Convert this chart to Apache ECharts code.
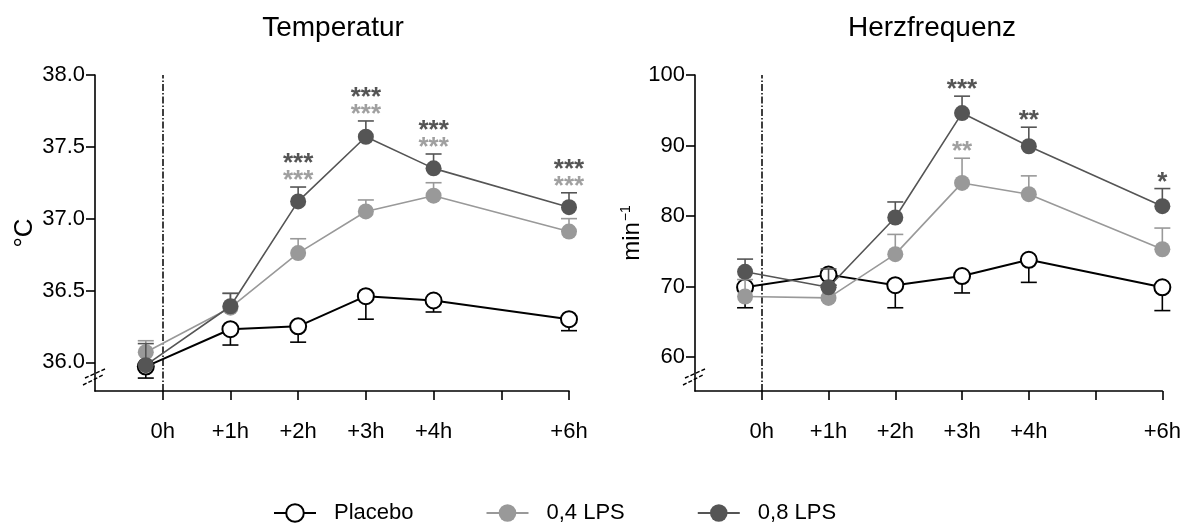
<!DOCTYPE html>
<html>
<head>
<meta charset="utf-8">
<script src="https://cdn.jsdelivr.net/npm/echarts@6/dist/echarts.min.js"></script>
<style>
html, body { margin: 0; padding: 0; background: #fff; }
#main { width: 1184px; height: 529px; }
</style>
</head>
<body>
<div id="main"></div>
<script>
// Zeitpunkte (h), Baseline kurz vor 0h
var hours = [-0.25, 1, 2, 3, 4, 6];
var tickHours = [0, 1, 2, 3, 4, 5, 6];
var labelHours = [0, 1, 2, 3, 4, 6];
var groupNames = ['Placebo', '0,4 LPS', '0,8 LPS'];

// Temperatur (°C), Mittelwert + SEM
var tempPlacebo    = [35.97, 36.23, 36.25, 36.46, 36.43, 36.30];
var tempPlaceboSem = [0.08, 0.11, 0.11, 0.16, 0.08, 0.08];
var tempLps04      = [36.07, 36.38, 36.76, 37.05, 37.16, 36.91];
var tempLps04Sem   = [0.08, 0.10, 0.10, 0.08, 0.09, 0.09];
var tempLps08      = [35.98, 36.39, 37.12, 37.57, 37.35, 37.08];
var tempLps08Sem   = [0.15, 0.09, 0.10, 0.11, 0.10, 0.10];
var tempSig04 = ['', '', '***', '***', '***', '***'];
var tempSig08 = ['', '', '***', '***', '***', '***'];
var tempTicks = [36.0, 36.5, 37.0, 37.5, 38.0];

// Herzfrequenz (min-1)
var hrPlacebo    = [69.9, 71.7, 70.2, 71.5, 73.8, 69.9];
var hrPlaceboSem = [2.9, 1.5, 3.2, 2.4, 3.2, 3.3];
var hrLps04      = [68.6, 68.4, 74.6, 84.7, 83.1, 75.3];
var hrLps04Sem   = [2.4, 1.5, 2.8, 3.5, 2.6, 3.0];
var hrLps08      = [72.1, 69.9, 79.8, 94.6, 89.9, 81.4];
var hrLps08Sem   = [1.8, 2.6, 2.2, 2.4, 2.7, 2.5];
var hrSig04 = ['', '', '', '**', '', ''];
var hrSig08 = ['', '', '', '***', '**', '*'];
var hrTicks = [60, 70, 80, 90, 100];

var colors = ['#000000', '#999999', '#555555'];
var FONT = '"Liberation Sans", Arial, Helvetica, sans-serif';

function pairs(xs, ys) {
    return xs.map(function (x, i) { return [x, ys[i]]; });
}
function triples(xs, ys, es) {
    return xs.map(function (x, i) { return [x, ys[i], es[i]]; });
}

// Fehlerbalken: dir = -1 nach unten (Placebo), +1 nach oben
function errorRender(dir, color) {
    return function (params, api) {
        var x = api.value(0), m = api.value(1), e = api.value(2);
        var p0 = api.coord([x, m]);
        var p1 = api.coord([x, m + dir * e]);
        var st = { stroke: color, lineWidth: 1.6 };
        return {
            type: 'group',
            children: [
                { type: 'line', shape: { x1: p0[0], y1: p0[1], x2: p1[0], y2: p1[1] }, style: st },
                { type: 'line', shape: { x1: p1[0] - 8, y1: p1[1], x2: p1[0] + 8, y2: p1[1] }, style: st }
            ]
        };
    };
}

// Sternchen über dem Fehlerbalken
function starRender(texts, color, dy) {
    return function (params, api) {
        var t = texts[params.dataIndex];
        if (!t) return;
        var p = api.coord([api.value(0), api.value(1)]);
        return {
            type: 'text',
            x: p[0], y: p[1] + dy,
            style: {
                text: t, fill: color, font: 'bold 26px ' + FONT,
                textAlign: 'center', textVerticalAlign: 'middle'
            }
        };
    };
}

function tops(means, sems) {
    return means.map(function (v, i) { return v + sems[i]; });
}

function lineSeries(name, gi, data, idx) {
    return {
        name: name, type: 'line',
        xAxisIndex: gi, yAxisIndex: gi,
        data: data,
        symbol: 'circle', symbolSize: 16,
        z: 3 + idx * 2,
        lineStyle: { color: colors[idx], width: idx === 0 ? 2 : 1.6 },
        itemStyle: idx === 0
            ? { color: '#ffffff', borderColor: '#000000', borderWidth: 2 }
            : { color: colors[idx], borderColor: colors[idx], borderWidth: 0 },
        emphasis: { disabled: true },
        animation: false
    };
}

function errSeries(name, gi, data, idx, dir) {
    return {
        name: name, type: 'custom',
        xAxisIndex: gi, yAxisIndex: gi,
        data: data, z: 2 + idx * 2,
        renderItem: errorRender(dir, colors[idx]),
        silent: true, animation: false
    };
}

function starSeries(gi, xs, anchors, texts, color, dy) {
    return {
        type: 'custom',
        xAxisIndex: gi, yAxisIndex: gi,
        data: pairs(xs, anchors), z: 10,
        renderItem: starRender(texts, color, dy),
        silent: true, animation: false
    };
}

function xAxisFor(gi) {
    return {
        gridIndex: gi, type: 'value', min: -1, max: 6,
        axisLine: { onZero: false, lineStyle: { color: '#000', width: 1.6 } },
        axisTick: { customValues: tickHours, length: 9, lineStyle: { color: '#000', width: 1.6 } },
        axisLabel: {
            customValues: labelHours, margin: 30, fontSize: 22, color: '#000', fontFamily: FONT,
            formatter: function (v) { return v === 0 ? '0h' : '+' + v + 'h'; }
        },
        splitLine: { show: false }
    };
}

function yAxisFor(gi, min, max, ticks, dec, name, nameGap) {
    return {
        gridIndex: gi, type: 'value', min: min, max: max,
        name: name, nameLocation: 'middle', nameGap: nameGap,
        nameTextStyle: {
            fontSize: 26, color: '#000', fontFamily: FONT,
            rich: {
                b: { fontSize: 24, fontFamily: FONT, color: '#000' },
                s: { fontSize: 14, fontFamily: FONT, color: '#000', padding: [0, 0, 12, 1] }
            }
        },
        axisLine: { show: true, onZero: false, lineStyle: { color: '#000', width: 1.6 } },
        axisTick: { show: true, customValues: ticks, length: 9, lineStyle: { color: '#000', width: 1.6 } },
        axisLabel: {
            customValues: ticks, margin: 10, fontSize: 22, color: '#000', fontFamily: FONT,
            formatter: function (v) { return v.toFixed(dec); }
        },
        splitLine: { show: false }
    };
}

var myChart = echarts.init(document.getElementById('main'));

var vline = {
    silent: true, symbol: ['none', 'none'],
    label: { show: false },
    lineStyle: { color: '#000', width: 1.5, type: [7, 2, 1.5, 2] },
    data: [{ xAxis: 0 }]
};

var series = [
    lineSeries('Placebo', 0, pairs(hours, tempPlacebo), 0),
    lineSeries('0,4 LPS', 0, pairs(hours, tempLps04), 1),
    lineSeries('0,8 LPS', 0, pairs(hours, tempLps08), 2),
    lineSeries('Placebo', 1, pairs(hours, hrPlacebo), 0),
    lineSeries('0,4 LPS', 1, pairs(hours, hrLps04), 1),
    lineSeries('0,8 LPS', 1, pairs(hours, hrLps08), 2),
    errSeries('Placebo', 0, triples(hours, tempPlacebo, tempPlaceboSem), 0, -1),
    errSeries('0,4 LPS', 0, triples(hours, tempLps04, tempLps04Sem), 1, 1),
    errSeries('0,8 LPS', 0, triples(hours, tempLps08, tempLps08Sem), 2, 1),
    errSeries('Placebo', 1, triples(hours, hrPlacebo, hrPlaceboSem), 0, -1),
    errSeries('0,4 LPS', 1, triples(hours, hrLps04, hrLps04Sem), 1, 1),
    errSeries('0,8 LPS', 1, triples(hours, hrLps08, hrLps08Sem), 2, 1),
    // Temperatur: beide Zeilen über dem höchsten Balken gestapelt
    starSeries(0, hours, tops(tempLps08, tempLps08Sem), tempSig04, '#a0a0a0', -6),
    starSeries(0, hours, tops(tempLps08, tempLps08Sem), tempSig08, '#555555', -23),
    // Herzfrequenz: jeweils über dem eigenen Balken
    starSeries(1, hours, tops(hrLps04, hrLps04Sem), hrSig04, '#a0a0a0', -6),
    starSeries(1, hours, tops(hrLps08, hrLps08Sem), hrSig08, '#555555', -6)
];
series[0].markLine = vline;
series[3].markLine = vline;

var options = {
    backgroundColor: '#ffffff',
    animation: false,
    textStyle: { fontFamily: FONT },
    grid: [
        { left: 95, top: 75, width: 474, height: 316 },
        { left: 695, top: 75, width: 474, height: 316 }
    ],
    xAxis: [xAxisFor(0), xAxisFor(1)],
    yAxis: [
        yAxisFor(0, 35.8, 38.0, tempTicks, 1, '°C', 56),
        yAxisFor(1, 55.2, 100, hrTicks, 0, '{b|min}{s|−1}', 50)
    ],
    legend: {
        data: groupNames,
        left: 268, top: 497,
        itemWidth: 42, itemHeight: 22, itemGap: 72,
        textStyle: { fontSize: 22, color: '#000', fontFamily: FONT, padding: [0, 0, 0, 13] },
        selectedMode: false
    },
    graphic: [
        { type: 'text', x: 333, y: 28, style: { text: 'Temperatur', font: '28px ' + FONT, fill: '#000', textAlign: 'center', textVerticalAlign: 'middle' } },
        { type: 'text', x: 932, y: 28, style: { text: 'Herzfrequenz', font: '28px ' + FONT, fill: '#000', textAlign: 'center', textVerticalAlign: 'middle' } },
        // Achsenunterbrechung
        { type: 'line', shape: { x1: 83, y1: 385, x2: 103, y2: 375 }, style: { stroke: '#000', lineWidth: 1.4, lineDash: [4, 2] } },
        { type: 'line', shape: { x1: 85, y1: 378, x2: 105, y2: 369 }, style: { stroke: '#000', lineWidth: 1.4, lineDash: [4, 2] } },
        { type: 'line', shape: { x1: 683, y1: 385, x2: 703, y2: 375 }, style: { stroke: '#000', lineWidth: 1.4, lineDash: [4, 2] } },
        { type: 'line', shape: { x1: 685, y1: 378, x2: 705, y2: 369 }, style: { stroke: '#000', lineWidth: 1.4, lineDash: [4, 2] } }
    ],
    series: series
};
myChart.setOption(options);
</script>
</body>
</html>
